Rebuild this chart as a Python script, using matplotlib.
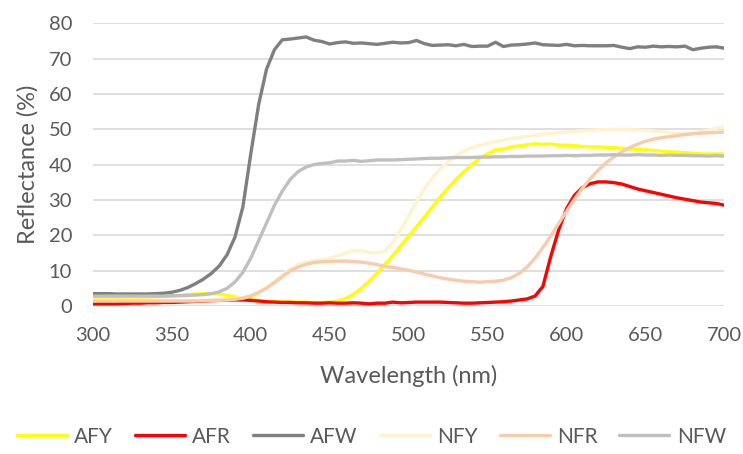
import numpy as np
import matplotlib
matplotlib.use("Agg")
import matplotlib.pyplot as plt

plt.rcParams['font.family'] = ['Lato', 'DejaVu Sans']

# wavelength grid (nm), 5 nm step
wavelength = np.arange(300, 701, 5)

afy = [2.3, 2.3, 2.3, 2.4, 2.4, 2.4, 2.5, 2.5, 2.6, 2.7,
       2.8, 3.0, 3.2, 3.4, 3.5, 3.5, 3.4, 3.0, 2.6, 2.2,
       1.9, 1.6, 1.4, 1.3, 1.2, 1.2, 1.1, 1.1, 1.0, 1.0,
       1.1, 1.4, 2.1, 3.3, 5.0, 7.0, 9.3, 11.8, 14.3, 17.0,
       19.8, 22.5, 25.2, 28.0, 30.8, 33.4, 35.8, 38.0, 40.0, 41.8,
       43.0, 44.2, 44.4, 45.0, 45.3, 45.6, 45.9, 45.7, 45.8, 45.5,
       45.5, 45.4, 45.1, 45.0, 45.0, 44.9, 44.8, 44.6, 44.4, 44.3,
       44.2, 44.0, 43.8, 43.6, 43.5, 43.4, 43.2, 43.0, 43.0, 43.0, 43.0]

afr = [0.6, 0.6, 0.6, 0.6, 0.7, 0.8, 0.8, 0.9, 0.9, 1.0,
       1.0, 1.1, 1.2, 1.3, 1.4, 1.5, 1.6, 1.7, 1.7, 1.7,
       1.6, 1.4, 1.2, 1.1, 1.0, 1.0, 0.9, 0.9, 0.8, 0.8,
       0.9, 0.8, 0.8, 0.9, 0.8, 0.6, 0.8, 0.8, 1.1, 0.9,
       1.0, 1.1, 1.1, 1.1, 1.1, 1.0, 0.9, 0.8, 0.8, 0.9,
       1.0, 1.1, 1.2, 1.4, 1.7, 2.0, 2.8, 5.5, 14.0, 21.5,
       27.5, 31.3, 33.5, 34.6, 35.1, 35.1, 34.9, 34.5, 33.8, 33.1,
       32.6, 32.1, 31.6, 31.1, 30.6, 30.2, 29.8, 29.4, 29.2, 29.0, 28.5]

afw = [3.5, 3.5, 3.5, 3.4, 3.4, 3.4, 3.4, 3.4, 3.5, 3.6,
       3.9, 4.4, 5.2, 6.3, 7.6, 9.2, 11.3, 14.5, 19.5, 28.0,
       43.0, 57.0, 67.0, 72.5, 75.3, 75.5, 75.8, 76.1, 75.2, 74.8,
       74.1, 74.5, 74.7, 74.3, 74.4, 74.2, 74.0, 74.3, 74.6, 74.4,
       74.5, 75.1, 74.2, 73.7, 73.8, 73.9, 73.6, 74.0, 73.4, 73.5,
       73.5, 74.6, 73.4, 73.8, 73.9, 74.1, 74.4, 73.9, 73.8, 73.7,
       74.0, 73.6, 73.7, 73.6, 73.6, 73.6, 73.7, 73.2, 72.8, 73.3,
       73.2, 73.5, 73.3, 73.4, 73.3, 73.5, 72.5, 72.9, 73.2, 73.3, 72.9]

nfy = [1.6, 1.6, 1.6, 1.6, 1.6, 1.6, 1.6, 1.6, 1.6, 1.6,
       1.6, 1.6, 1.6, 1.6, 1.6, 1.7, 1.8, 1.9, 2.1, 2.4,
       3.0, 4.0, 5.3, 7.0, 8.8, 10.5, 11.7, 12.4, 12.8, 13.1,
       13.5, 14.2, 15.0, 15.7, 15.6, 15.2, 15.0, 15.6, 18.0, 21.5,
       25.5, 29.5, 33.2, 36.3, 38.8, 40.8, 42.5, 43.8, 44.8, 45.5,
       46.0, 46.5, 46.9, 47.3, 47.7, 48.0, 48.3, 48.6, 48.8, 49.0,
       49.2, 49.4, 49.6, 49.7, 49.8, 49.9, 50.0, 49.9, 49.9, 49.8,
       49.7, 49.5, 49.3, 49.0, 48.8, 48.8, 49.0, 49.3, 49.8, 50.3, 50.6]

nfr = [1.4, 1.4, 1.4, 1.4, 1.4, 1.4, 1.4, 1.4, 1.4, 1.4,
       1.4, 1.4, 1.4, 1.4, 1.5, 1.5, 1.6, 1.7, 1.9, 2.2,
       2.8, 3.8, 5.0, 6.6, 8.3, 9.9, 11.0, 11.8, 12.3, 12.5,
       12.6, 12.7, 12.7, 12.6, 12.4, 12.1, 11.7, 11.2, 10.9, 10.5,
       10.1, 9.6, 9.0, 8.5, 8.0, 7.6, 7.3, 7.0, 6.9, 6.7,
       6.9, 7.0, 7.3, 8.0, 9.2, 11.0, 13.5, 16.5, 19.8, 23.3,
       26.8, 30.2, 33.3, 36.0, 38.4, 40.5, 42.2, 43.6, 44.8, 45.8,
       46.6, 47.2, 47.6, 47.9, 48.2, 48.5, 48.7, 48.9, 49.0, 49.1, 49.2]

nfw = [2.8, 2.8, 2.8, 2.8, 2.8, 2.8, 2.8, 2.8, 2.8, 2.8,
       2.9, 2.9, 3.0, 3.1, 3.2, 3.5, 4.0, 5.0, 6.8, 9.5,
       13.5, 18.5, 23.5, 28.5, 32.5, 35.8, 38.0, 39.3, 40.0, 40.3,
       40.5, 41.0, 41.0, 41.2, 40.9, 41.1, 41.3, 41.3, 41.3, 41.4,
       41.5, 41.6, 41.7, 41.8, 41.8, 41.9, 42.0, 42.0, 42.0, 42.1,
       42.1, 42.2, 42.2, 42.3, 42.3, 42.4, 42.4, 42.4, 42.5, 42.5,
       42.6, 42.5, 42.6, 42.6, 42.7, 42.7, 42.8, 42.7, 42.7, 42.8,
       42.7, 42.7, 42.6, 42.7, 42.6, 42.6, 42.5, 42.5, 42.4, 42.5, 42.4]

labels = ['AFY', 'AFR', 'AFW', 'NFY', 'NFR', 'NFW']
colors = ['#FFFF00', '#FF0000', '#7F7F7F', '#FFF2CC', '#F8CBAD', '#BFBFBF']
series = [afy, afr, afw, nfy, nfr, nfw]

text_color = '#595959'

fig = plt.figure(figsize=(7.43, 4.54), dpi=100)
ax = fig.add_axes([0.125, 0.326, 0.85, 0.623])

for y, c, lab in zip(series, colors, labels):
    ax.plot(wavelength, y, color=c, lw=2.4, label=lab, solid_capstyle='round')

ax.set_xlim(300, 700)
ax.set_ylim(0, 80)
ax.set_xticks(range(300, 701, 50))
ax.set_yticks(range(0, 81, 10))
ax.grid(axis='y', color='#D9D9D9', lw=1.2)
ax.set_axisbelow(True)
for s in ax.spines.values():
    s.set_visible(False)
ax.tick_params(axis='x', length=0, labelsize=14.5, colors=text_color, pad=15)
ax.tick_params(axis='y', length=0, labelsize=14.5, colors=text_color, pad=15)

ax.set_xlabel('Wavelength (nm)', fontsize=17, color=text_color, labelpad=15)
ax.set_ylabel('Reflectance (%)', fontsize=17, color=text_color, labelpad=7)

fig.legend(loc='lower center', bbox_to_anchor=(0.5, -0.025), ncol=6, frameon=False,
           fontsize=15, labelcolor=text_color, handlelength=2.4, handletextpad=0.35,
           columnspacing=1.05)

fig.savefig('out.png', dpi=100)
